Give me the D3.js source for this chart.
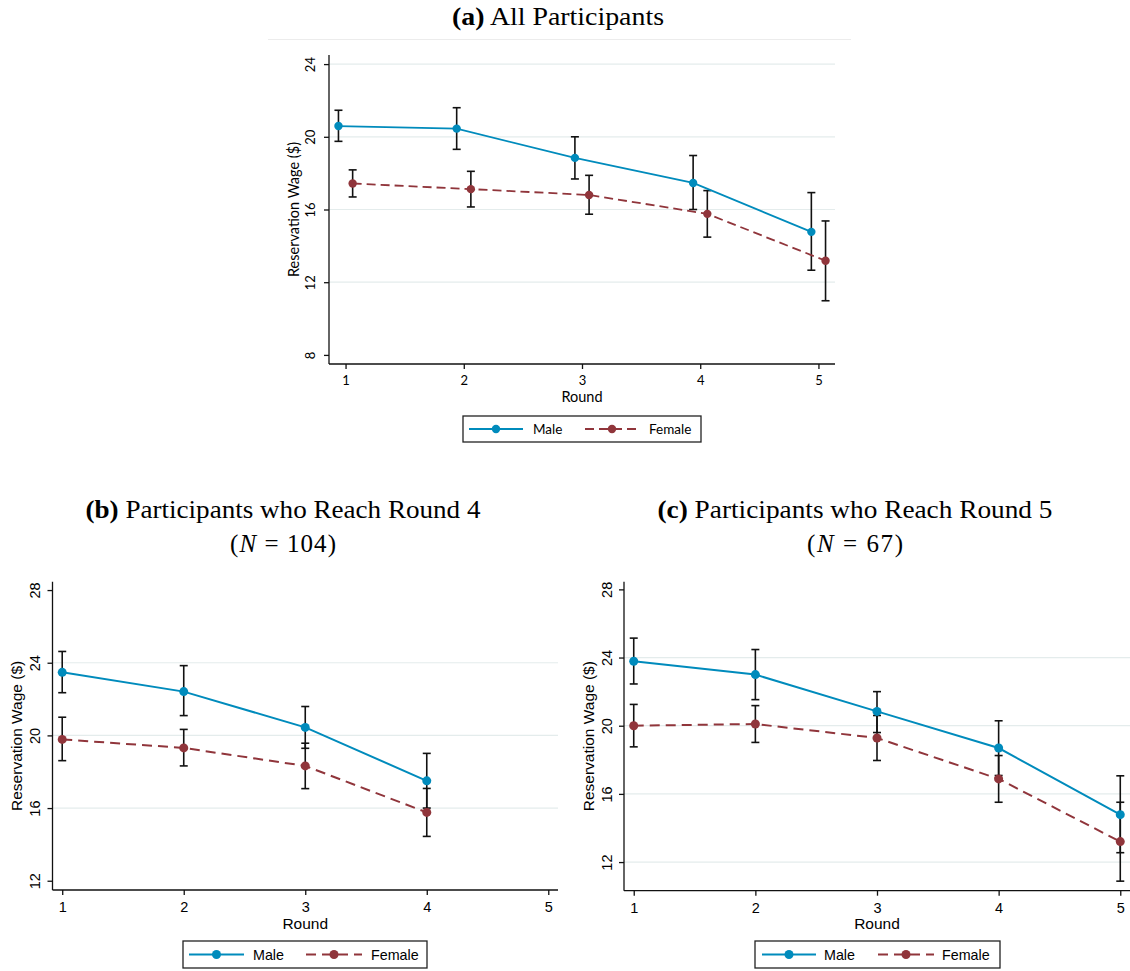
<!DOCTYPE html>
<html>
<head>
<meta charset="utf-8">
<script src="https://cdn.jsdelivr.net/npm/d3@7"></script>
<style>
  html, body { margin: 0; padding: 0; background: #fff; }
  svg { display: block; }
</style>
</head>
<body>
<svg id="chart" width="1130" height="971"></svg>
<script>
// ---------------- DATA ----------------
const roundsAll = [1, 2, 3, 4, 5];
const roundsB = [1, 2, 3, 4];
const xTickLabels = [1, 2, 3, 4, 5];
const seriesNames = ["Male", "Female"];

// Panel (a): All participants
const aMale   = [20.59, 20.45, 18.84, 17.46, 14.77];
const aMaleLo = [19.75, 19.31, 17.68, 16.00, 12.66];
const aMaleHi = [21.46, 21.60, 20.00, 18.97, 16.93];
const aFemale   = [17.43, 17.12, 16.80, 15.76, 13.18];
const aFemaleLo = [16.69, 16.14, 15.74, 14.48, 10.98];
const aFemaleHi = [18.18, 18.10, 17.88, 17.04, 15.37];
const aYTicks = [8, 12, 16, 20, 24];
const aGrid = [12, 16, 20, 24];

// Panel (b): Participants who reach round 4
const bMale   = [23.47, 22.41, 20.44, 17.50];
const bMaleLo = [22.35, 21.09, 19.29, 16.00];
const bMaleHi = [24.62, 23.84, 21.59, 19.01];
const bFemale   = [19.78, 19.31, 18.32, 15.76];
const bFemaleLo = [18.61, 18.32, 17.07, 14.44];
const bFemaleHi = [21.00, 20.33, 19.57, 17.08];
const bYTicks = [12, 16, 20, 24, 28];
const bGrid = [16, 20, 24];

// Panel (c): Participants who reach round 5
const cMale   = [23.78, 23.00, 20.84, 18.69, 14.78];
const cMaleLo = [22.45, 21.53, 19.60, 17.08, 12.55];
const cMaleHi = [25.14, 24.47, 22.00, 20.29, 17.06];
const cFemale   = [20.00, 20.10, 19.28, 16.88, 13.20];
const cFemaleLo = [18.76, 19.02, 17.96, 15.51, 10.88];
const cFemaleHi = [21.25, 21.18, 20.60, 18.25, 15.51];
const cYTicks = [12, 16, 20, 24, 28];
const cGrid = [12, 16, 20, 24];

const titleA = { tag: "(a)", text: " All Participants" };
const titleB = { tag: "(b)", text: " Participants who Reach Round 4", n: "104" };
const titleC = { tag: "(c)", text: " Participants who Reach Round 5", n: "67" };

// ---------------- STYLE ----------------
const MALE_COLOR = "#008bbc";
const FEMALE_COLOR = "#90353b";
const GRID_COLOR = "#e4ecec";
const svg = d3.select("#chart");

function makeSeries(rounds, mean, lo, hi, offset) {
  return rounds.map((r, i) => ({ x: r + offset, y: mean[i], lo: lo[i], hi: hi[i] }));
}

function drawPanel(cfg) {
  const g = svg.append("g");
  const x = d3.scaleLinear().domain(cfg.xDomain).range([cfg.left, cfg.right]);
  const y = d3.scaleLinear().domain(cfg.yDomain).range([cfg.bottom, cfg.top]);

  // gridlines
  g.append("g").selectAll("line").data(cfg.grid).join("line")
    .attr("x1", cfg.left).attr("x2", cfg.right)
    .attr("y1", d => y(d)).attr("y2", d => y(d))
    .attr("stroke", GRID_COLOR).attr("stroke-width", 1.2);

  // axes
  const yAxis = g.append("g").attr("transform", `translate(${cfg.left},0)`)
    .call(d3.axisLeft(y).tickValues(cfg.yTicks).tickSize(5).tickSizeOuter(0).tickFormat(d3.format("d")));
  yAxis.select(".domain").attr("d", `M0,${cfg.bottom}V${cfg.top}`);
  yAxis.selectAll("text")
    .attr("x", 0).attr("dy", null)
    .attr("text-anchor", "middle")
    .attr("dominant-baseline", "central")
    .attr("transform", `translate(${-cfg.yLabelDist},0) rotate(-90)`)
    .style("font-family", cfg.font).style("font-size", cfg.tickSize + "px").attr("fill", "#000");

  const xAxis = g.append("g").attr("transform", `translate(0,${cfg.bottom})`)
    .call(d3.axisBottom(x).tickValues(xTickLabels).tickSize(5).tickSizeOuter(0).tickFormat(d3.format("d")));
  xAxis.select(".domain").attr("d", `M${cfg.left},0H${cfg.right}`);
  xAxis.selectAll("text")
    .attr("y", cfg.xLabelDist).attr("dy", null)
    .attr("dominant-baseline", "central")
    .style("font-family", cfg.font).style("font-size", cfg.tickSize + "px").attr("fill", "#000");
  [yAxis, xAxis].forEach(a => {
    a.selectAll(".domain, .tick line").attr("stroke", "#111").attr("stroke-width", 1.3);
  });

  // axis titles
  g.append("text")
    .attr("transform", `translate(${cfg.left - cfg.yTitleDist},${(cfg.top + cfg.bottom) / 2}) rotate(-90)`)
    .attr("text-anchor", "middle").attr("dominant-baseline", "central")
    .style("font-family", cfg.font).style("font-size", cfg.titleSize + "px")
    .text("Reservation Wage ($)");
  g.append("text")
    .attr("x", (cfg.left + cfg.right) / 2).attr("y", cfg.bottom + cfg.xTitleDist)
    .attr("text-anchor", "middle").attr("dominant-baseline", "central")
    .style("font-family", cfg.font).style("font-size", cfg.titleSize + "px")
    .text("Round");

  const series = [
    { name: seriesNames[0], color: MALE_COLOR, dash: null, data: cfg.male },
    { name: seriesNames[1], color: FEMALE_COLOR, dash: cfg.dash, data: cfg.female }
  ];

  // error bars
  series.forEach(s => {
    const eb = g.append("g");
    eb.selectAll("line.v").data(s.data).join("line")
      .attr("x1", d => x(d.x)).attr("x2", d => x(d.x))
      .attr("y1", d => y(d.lo)).attr("y2", d => y(d.hi))
      .attr("stroke", "#111").attr("stroke-width", 1.6);
    ["lo", "hi"].forEach(k => {
      eb.selectAll("line.c" + k).data(s.data).join("line")
        .attr("x1", d => x(d.x) - cfg.cap).attr("x2", d => x(d.x) + cfg.cap)
        .attr("y1", d => y(d[k])).attr("y2", d => y(d[k]))
        .attr("stroke", "#111").attr("stroke-width", 1.6);
    });
  });

  // lines + markers
  const line = d3.line().x(d => x(d.x)).y(d => y(d.y));
  series.forEach(s => {
    g.append("path").datum(s.data)
      .attr("d", line).attr("fill", "none")
      .attr("stroke", s.color).attr("stroke-width", cfg.lineWidth)
      .attr("stroke-dasharray", s.dash);
    g.append("g").selectAll("circle").data(s.data).join("circle")
      .attr("cx", d => x(d.x)).attr("cy", d => y(d.y)).attr("r", cfg.r)
      .attr("fill", s.color);
  });

  // legend
  const L = cfg.legend;
  const lg = g.append("g");
  lg.append("rect").attr("x", L.x).attr("y", L.y).attr("width", L.w).attr("height", L.h)
    .attr("fill", "#fff").attr("stroke", "#222").attr("stroke-width", 1.3);
  const cy = L.y + L.h / 2;
  series.forEach((s, i) => {
    const e = L.entries[i];
    lg.append("line").attr("x1", e.x1).attr("x2", e.x2).attr("y1", cy).attr("y2", cy)
      .attr("stroke", s.color).attr("stroke-width", cfg.lineWidth).attr("stroke-dasharray", s.dash);
    lg.append("circle").attr("cx", (e.x1 + e.x2) / 2).attr("cy", cy).attr("r", cfg.r).attr("fill", s.color);
    lg.append("text").attr("x", e.tx).attr("y", cy).attr("dominant-baseline", "central")
      .style("font-family", cfg.font).style("font-size", L.fontSize + "px").text(s.name);
  });
}

const SERIF = "'Liberation Serif', 'DejaVu Serif', serif";
function drawTitle(t, cx, y1, w1, y2, w2) {
  const tt = svg.append("text").attr("x", cx - w1 / 2).attr("y", y1)
    .attr("textLength", w1).attr("lengthAdjust", "spacingAndGlyphs")
    .style("font-family", SERIF).style("font-size", "25px");
  tt.append("tspan").style("font-weight", "bold").text(t.tag);
  tt.append("tspan").text(t.text);
  if (t.n) {
    const t2 = svg.append("text").attr("x", cx - w2 / 2).attr("y", y2)
      .attr("textLength", w2).attr("lengthAdjust", "spacing")
      .style("font-family", SERIF).style("font-size", "25px")
      .style("white-space", "pre");
    t2.append("tspan").text("(");
    t2.append("tspan").style("font-style", "italic").text("N");
    t2.append("tspan").text(" = " + t.n + ")");
  }
}

// faint outer border at top of panel (a)
svg.append("line").attr("x1", 268).attr("x2", 851).attr("y1", 39.5).attr("y2", 39.5)
  .attr("stroke", "#ececec").attr("stroke-width", 1);

drawTitle(titleA, 558, 25, 212);
drawTitle(titleB, 283, 518, 395, 552, 106);
drawTitle(titleC, 855, 518, 395, 552, 96);

drawPanel({
  left: 329, right: 835, top: 55, bottom: 364,
  xDomain: [0.86, 5.14], yDomain: [7.5, 24.5],
  yTicks: aYTicks, grid: aGrid,
  male: makeSeries(roundsAll, aMale, aMaleLo, aMaleHi, -0.06),
  female: makeSeries(roundsAll, aFemale, aFemaleLo, aFemaleHi, 0.06),
  font: "Lato, 'Open Sans', sans-serif", tickSize: 13, titleSize: 14.5,
  yLabelDist: 19, yTitleDist: 36, xLabelDist: 16, xTitleDist: 32,
  lineWidth: 1.8, r: 4.2, cap: 4, dash: "9,5",
  legend: { x: 463, y: 416, w: 238, h: 26, fontSize: 13.5,
    entries: [{ x1: 469, x2: 523, tx: 533 }, { x1: 585, x2: 639, tx: 649 }] }
});

drawPanel({
  left: 52.5, right: 558, top: 581.7, bottom: 890,
  xDomain: [0.92, 5.08], yDomain: [11.49, 28.46],
  yTicks: bYTicks, grid: bGrid,
  male: makeSeries(roundsB, bMale, bMaleLo, bMaleHi, 0),
  female: makeSeries(roundsB, bFemale, bFemaleLo, bFemaleHi, 0),
  font: "'Liberation Sans', Arial, sans-serif", tickSize: 14.5, titleSize: 15.5,
  yLabelDist: 17.5, yTitleDist: 36, xLabelDist: 17, xTitleDist: 33,
  lineWidth: 2, r: 4.5, cap: 4, dash: "10,6",
  legend: { x: 183, y: 941, w: 244, h: 27, fontSize: 14.3,
    entries: [{ x1: 189, x2: 244, tx: 253 }, { x1: 306, x2: 362, tx: 371 }] }
});

drawPanel({
  left: 624, right: 1130, top: 581.7, bottom: 890.7,
  xDomain: [0.92, 5.08], yDomain: [10.32, 28.45],
  yTicks: cYTicks, grid: cGrid,
  male: makeSeries(roundsAll, cMale, cMaleLo, cMaleHi, 0),
  female: makeSeries(roundsAll, cFemale, cFemaleLo, cFemaleHi, 0),
  font: "'Liberation Sans', Arial, sans-serif", tickSize: 14.5, titleSize: 15.5,
  yLabelDist: 17.5, yTitleDist: 36, xLabelDist: 17, xTitleDist: 33,
  lineWidth: 2, r: 4.5, cap: 4, dash: "10,6",
  legend: { x: 755, y: 941, w: 245, h: 27, fontSize: 14.3,
    entries: [{ x1: 762, x2: 816, tx: 824 }, { x1: 878, x2: 934, tx: 942 }] }
});
</script>
</body>
</html>
